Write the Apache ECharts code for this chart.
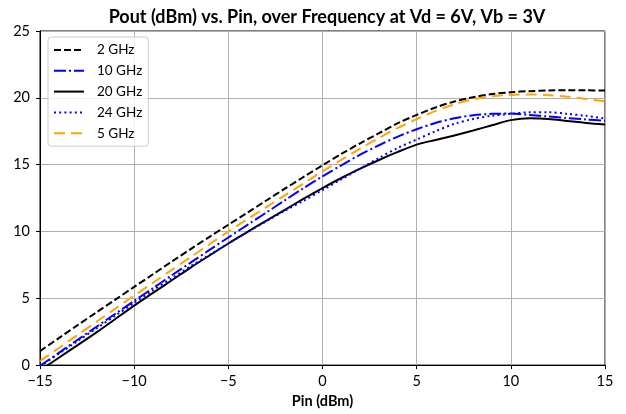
<!DOCTYPE html>
<html>
<head>
<meta charset="utf-8">
<script src="https://cdn.jsdelivr.net/npm/echarts@6/dist/echarts.min.js"></script>
<style>
html,body{margin:0;padding:0;background:#fff;}
#chart{width:626px;height:414px;}
</style>
</head>
<body>
<div id="chart"></div>
<script>
const titleText = 'Pout (dBm) vs. Pin, over Frequency at Vd = 6V, Vb = 3V';
const xAxisName = 'Pin (dBm)';
const seriesNames = ['2 GHz', '10 GHz', '20 GHz', '24 GHz', '5 GHz'];
const pin = [-15,-14,-13,-12,-11,-10,-9,-8,-7,-6,-5,-4,-3,-2,-1,0,1,2,3,4,5,6,7,8,9,10,11,12,13,14,15];
const pout2GHz  = [1.05,2.02,2.99,3.95,4.9,5.85,6.8,7.75,8.68,9.6,10.5,11.4,12.3,13.2,14.08,14.95,15.8,16.6,17.35,18.1,18.72,19.28,19.72,20.05,20.28,20.42,20.5,20.55,20.57,20.56,20.54];
const pout10GHz = [-0.05,0.92,1.9,2.87,3.84,4.8,5.76,6.72,7.67,8.62,9.55,10.48,11.4,12.33,13.25,14.12,14.95,15.75,16.45,17.1,17.65,18.12,18.47,18.7,18.8,18.82,18.72,18.6,18.48,18.38,18.28];
const pout20GHz = [-0.4,0.55,1.5,2.45,3.45,4.45,5.4,6.35,7.3,8.2,9.1,9.95,10.8,11.62,12.45,13.25,14.0,14.7,15.35,15.95,16.5,16.85,17.18,17.55,17.95,18.33,18.47,18.42,18.27,18.12,18.0];
const pout24GHz = [-0.1,0.85,1.8,2.75,3.7,4.65,5.6,6.5,7.4,8.25,9.1,9.95,10.75,11.55,12.3,13.1,13.9,14.7,15.5,16.25,16.88,17.5,18.05,18.42,18.66,18.8,18.92,18.92,18.8,18.65,18.45];
const pout5GHz  = [0.3,1.28,2.26,3.24,4.22,5.2,6.16,7.12,8.08,9.04,10.0,10.9,11.8,12.7,13.6,14.5,15.35,16.2,17.0,17.75,18.4,19.02,19.52,19.88,20.12,20.22,20.25,20.2,20.08,19.92,19.74];
const xTicks = [-15,-10,-5,0,5,10,15];
const yTicks = [0,5,10,15,20,25];

const seriesValues = [pout2GHz, pout10GHz, pout20GHz, pout24GHz, pout5GHz];
const colors = ['#000000', '#0000ff', '#000000', '#0000ff', '#ffa500'];
const dashes = [[7,3], [12,3,2,3], 'solid', [2,3.2], [11,6]];

const FONT = 'Lato';
const fmt = v => String(v).replace('-', '\u2212');

const chart = echarts.init(document.getElementById('chart'), null, {renderer: 'canvas'});
chart.setOption({
  animation: false,
  backgroundColor: '#ffffff',
  title: {
    text: titleText,
    left: 322, top: 3, textAlign: 'center',
    textStyle: {fontFamily: FONT, fontSize: 18, fontWeight: 'bold', color: '#000'}
  },
  legend: {
    orient: 'vertical',
    left: 48, top: 37,
    itemWidth: 30, itemHeight: 14, itemGap: 6.8,
    padding: [6, 6, 6, 5],
    backgroundColor: 'rgba(255,255,255,0.8)',
    borderColor: '#cccccc', borderWidth: 1, borderRadius: 3,
    itemStyle: {opacity: 0},
    lineStyle: {width: 2},
    data: seriesNames,
    textStyle: {fontFamily: FONT, fontSize: 13.5, color: '#000', padding: [0,0,0,8]}
  },
  grid: {
    left: 40, right: 21, top: 31, bottom: 47,
    show: true, borderColor: '#000', borderWidth: 1, backgroundColor: 'transparent'
  },
  xAxis: {
    type: 'value', min: xTicks[0], max: xTicks[xTicks.length-1], interval: 5,
    name: xAxisName, nameLocation: 'middle', nameGap: 27,
    nameTextStyle: {fontFamily: FONT, fontSize: 14.5, fontWeight: 'bold', color: '#000'},
    axisLine: {show: true, onZero: false, lineStyle: {color: '#000', width: 1}},
    axisTick: {show: true, length: 4, lineStyle: {color: '#000'}},
    axisLabel: {fontFamily: FONT, fontSize: 14.5, color: '#000', margin: 9, formatter: fmt},
    splitLine: {show: true, lineStyle: {color: '#b0b0b0', width: 1}}
  },
  yAxis: {
    type: 'value', min: yTicks[0], max: yTicks[yTicks.length-1], interval: 5,
    axisLine: {show: true, onZero: false, lineStyle: {color: '#000', width: 1}},
    axisTick: {show: true, length: 4, lineStyle: {color: '#000'}},
    axisLabel: {fontFamily: FONT, fontSize: 14.5, color: '#000', margin: 10, formatter: fmt},
    splitLine: {show: true, lineStyle: {color: '#b0b0b0', width: 1}}
  },
  series: seriesNames.map((name, i) => ({
    name: name,
    type: 'line',
    data: pin.map((x, j) => [x, seriesValues[i][j]]),
    symbol: 'none',
    smooth: 0.3,
    clip: true,
    color: colors[i],
    lineStyle: {color: colors[i], width: 2, type: dashes[i]},
    z: 2 + i
  }))
});
</script>
</body>
</html>
